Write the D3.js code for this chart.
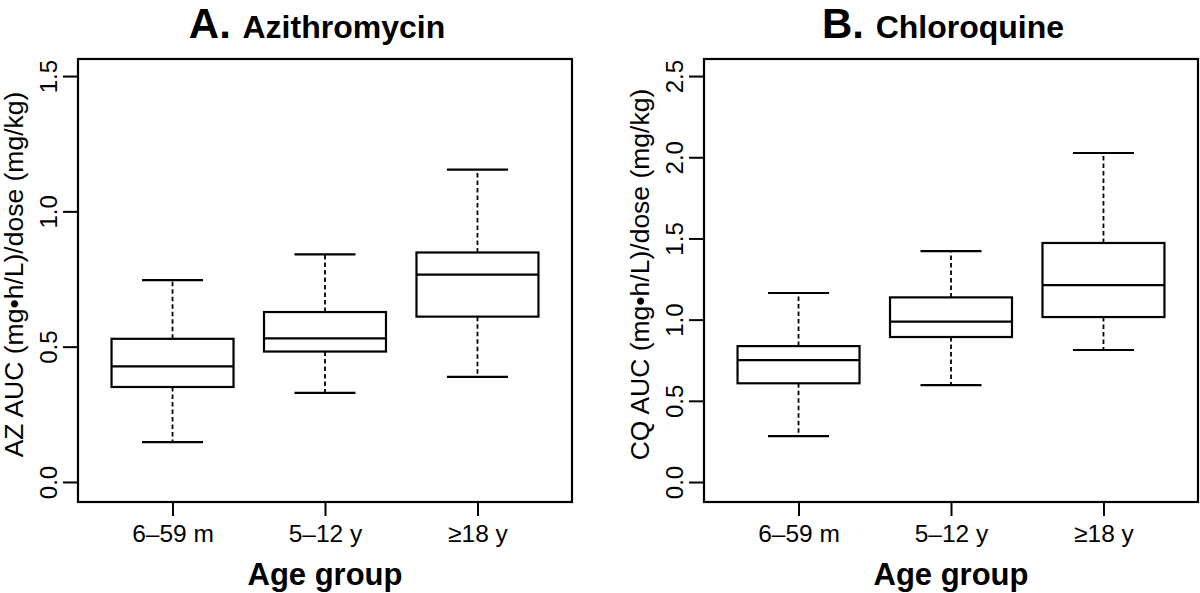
<!DOCTYPE html>
<html><head><meta charset="utf-8">
<script src="https://cdn.jsdelivr.net/npm/d3@7"></script>
<style>body{margin:0;background:#fff}svg{display:block}text{font-family:"Liberation Sans",Arial,sans-serif;fill:#000}</style>
</head><body>
<svg id="c" width="1200" height="593"></svg>
<script>
// ---- data ----
const categories = ["6\u201359 m", "5\u201312 y", "\u226518 y"];
// Azithromycin AUC/dose: [lower whisker, Q1, median, Q3, upper whisker]
const azLow    = [0.147, 0.329, 0.388];
const azQ1     = [0.351, 0.482, 0.611];
const azMedian = [0.427, 0.531, 0.766];
const azQ3     = [0.529, 0.628, 0.848];
const azHigh   = [0.746, 0.841, 1.154];
// Chloroquine AUC/dose
const cqLow    = [0.283, 0.597, 0.813];
const cqQ1     = [0.608, 0.893, 1.016];
const cqMedian = [0.751, 0.988, 1.213];
const cqQ3     = [0.837, 1.137, 1.472];
const cqHigh   = [1.164, 1.422, 2.026];
const azTicks = [0.0, 0.5, 1.0, 1.5];
const cqTicks = [0.0, 0.5, 1.0, 1.5, 2.0, 2.5];

const svg = d3.select("#c");

function panel(o) {
  const left = o.left, right = o.left + 494, top = 59, bottom = 502;
  const x = d3.scaleLinear().domain([0.38, 3.62]).range([left, right]);
  const y = d3.scaleLinear().domain(o.ydom).range([bottom, top]);
  const g = svg.append("g");
  const bw = 0.4, sw = 0.2;
  const rows = categories.map((c, i) => ({c, i: i + 1, lo: o.lo[i], q1: o.q1[i], md: o.md[i], q3: o.q3[i], hi: o.hi[i]}));
  const b = g.selectAll("g.box").data(rows).join("g").attr("class", "box")
    .attr("fill", "none").attr("stroke", "#000");
  // whiskers
  b.append("line").attr("x1", d => x(d.i)).attr("x2", d => x(d.i))
    .attr("y1", d => y(d.q3)).attr("y2", d => y(d.hi))
    .attr("stroke-width", 1.8).attr("stroke-dasharray", "4.5,3");
  b.append("line").attr("x1", d => x(d.i)).attr("x2", d => x(d.i))
    .attr("y1", d => y(d.q1)).attr("y2", d => y(d.lo))
    .attr("stroke-width", 1.8).attr("stroke-dasharray", "4.5,3");
  // staples
  b.append("line").attr("x1", d => x(d.i - sw)).attr("x2", d => x(d.i + sw))
    .attr("y1", d => y(d.hi)).attr("y2", d => y(d.hi)).attr("stroke-width", 2.2);
  b.append("line").attr("x1", d => x(d.i - sw)).attr("x2", d => x(d.i + sw))
    .attr("y1", d => y(d.lo)).attr("y2", d => y(d.lo)).attr("stroke-width", 2.2);
  // box
  b.append("rect").attr("x", d => x(d.i - bw)).attr("width", d => x(d.i + bw) - x(d.i - bw))
    .attr("y", d => y(d.q3)).attr("height", d => y(d.q1) - y(d.q3))
    .attr("fill", "#fff").attr("stroke-width", 2.2);
  b.append("line").attr("x1", d => x(d.i - bw)).attr("x2", d => x(d.i + bw))
    .attr("y1", d => y(d.md)).attr("y2", d => y(d.md)).attr("stroke-width", 2.2);

  // axes
  const ya = g.append("g").attr("transform", `translate(${left},0)`)
    .call(d3.axisLeft(y).tickValues(o.ticks).tickFormat(d3.format(".1f")).tickSize(15).tickSizeOuter(0));
  ya.select(".domain").remove();
  ya.selectAll(".tick line").attr("stroke-width", 2);
  ya.selectAll(".tick text").attr("x", 0).attr("dy", 0).attr("text-anchor", "middle")
    .attr("transform", "translate(-21,0) rotate(-90)").style("font-size", "24px");
  g.append("line").attr("x1", left).attr("x2", left).attr("y1", y(o.ticks[0])).attr("y2", y(o.ticks[o.ticks.length-1])).attr("stroke","#000").attr("stroke-width",2);

  const xa = g.append("g").attr("transform", `translate(0,${bottom})`)
    .call(d3.axisBottom(x).tickValues([1, 2, 3]).tickFormat(d => categories[d - 1]).tickSize(14).tickSizeOuter(0));
  xa.select(".domain").remove();
  xa.selectAll(".tick line").attr("stroke-width", 2);
  xa.selectAll(".tick text").attr("dy", 0).attr("y", 40).style("font-size", "24.5px");

  // frame
  g.append("rect").attr("x", left).attr("y", top).attr("width", right - left).attr("height", bottom - top)
    .attr("fill", "none").attr("stroke", "#000").attr("stroke-width", 2.2);

  // titles
  const cx = (left + right) / 2;
  const t = g.append("text").attr("x", cx - 8).attr("y", 38).attr("text-anchor", "middle").style("font-weight", "bold");
  t.append("tspan").style("font-size", "42px").text(o.letter + " ");
  t.append("tspan").style("font-size", "32px").text(o.title);
  g.append("text").attr("x", cx).attr("y", 585).attr("text-anchor", "middle")
    .style("font-weight", "bold").style("font-size", "31px").text("Age group");
  g.append("text").attr("transform", `translate(${left - 55},${(top + bottom) / 2 - 6}) rotate(-90)`)
    .attr("text-anchor", "middle").style("font-size", "26.5px").text(o.ylab);
}

panel({left: 78, ydom: [-0.074, 1.563], ticks: azTicks, lo: azLow, q1: azQ1, md: azMedian, q3: azQ3, hi: azHigh,
  letter: "A.", title: "Azithromycin", ylab: "AZ AUC (mg\u2022h/L)/dose (mg/kg)"});
panel({left: 704, ydom: [-0.123, 2.605], ticks: cqTicks, lo: cqLow, q1: cqQ1, md: cqMedian, q3: cqQ3, hi: cqHigh,
  letter: "B.", title: "Chloroquine", ylab: "CQ AUC (mg\u2022h/L)/dose (mg/kg)"});
</script>
</body></html>
